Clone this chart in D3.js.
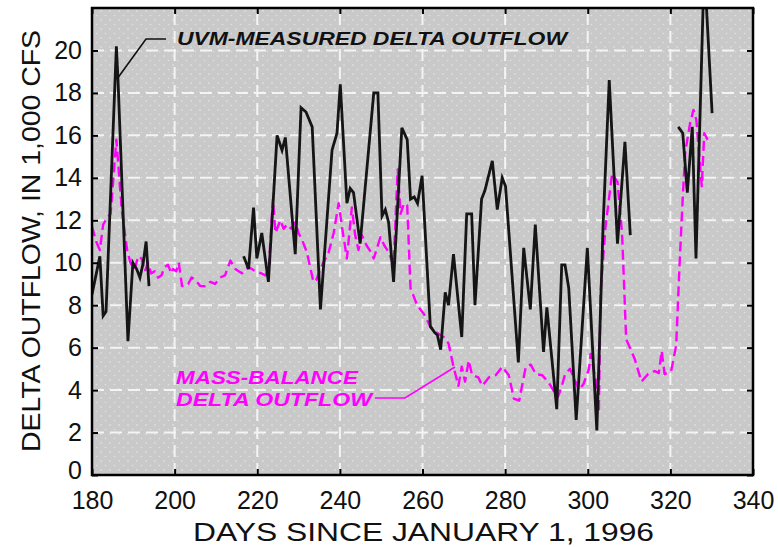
<!DOCTYPE html>
<html>
<head>
<meta charset="utf-8">
<script src="https://cdn.jsdelivr.net/npm/d3@7"></script>
<style>
  html, body { margin: 0; padding: 0; background: #ffffff; }
  svg { display: block; }
  text { font-family: "Liberation Sans", Arial, Helvetica, sans-serif; }
</style>
</head>
<body>
<svg id="chart" width="778" height="547"></svg>
<script>
// ---------------- DATA ----------------
const xTicks = [180, 200, 220, 240, 260, 280, 300, 320, 340];
const yTicks = [0, 2, 4, 6, 8, 10, 12, 14, 16, 18, 20];

// UVM-measured delta outflow (1,000 cfs); null = no data (gap)
const uvmDays = [
  180.0, 181.9, 182.7, 183.4, 185.9, 186.3, 188.7, 189.9, 190.8, 191.6, 192.4, 193.1, 193.8,
  205.0,
  216.7, 217.9, 219.1, 219.9, 221.1, 222.7, 224.8, 226.0, 226.8, 229.2, 230.6, 231.8, 233.3,
  235.3, 238.1, 239.3, 240.1, 241.7, 242.5, 243.3, 244.9, 248.2, 249.2, 250.2, 251.0, 251.8,
  253.0, 255.0, 256.3, 257.1, 258.0, 258.8, 259.9, 261.9, 263.0, 263.6, 264.4, 265.5, 266.3,
  267.5, 269.5, 270.7, 271.9, 272.7, 274.3, 275.1, 276.9, 278.1, 279.3, 280.1, 283.2, 284.5,
  286.1, 287.3, 289.3, 290.1, 292.5, 293.7, 294.5, 295.4, 297.2, 299.9, 302.2, 303.7, 305.2,
  307.2, 309.0, 310.3,
  315.0,
  321.9, 323.0, 324.1, 325.3, 326.2, 328.2, 330.1
];
const uvmValues = [
  8.5, 10.3, 7.5, 7.7, 20.2, 18.6, 6.3, 10.0, 9.7, 9.3, 10.0, 11.0, 8.9,
  null,
  10.3, 9.7, 12.6, 10.2, 11.4, 9.1, 16.0, 15.3, 15.9, 10.4, 17.3, 17.1, 16.4,
  7.8, 15.3, 16.1, 18.4, 12.8, 13.5, 13.3, 10.9, 18.0, 18.0, 12.2, 12.5, 11.9,
  9.1, 16.35, 15.8, 13.0, 13.1, 12.8, 14.1, 7.0, 6.7, 6.6, 5.9, 8.6, 8.0,
  10.4, 6.5, 12.3, 12.3, 8.0, 13.0, 13.4, 14.8, 12.5, 14.0, 13.6, 5.3, 10.7,
  7.8, 11.8, 5.8, 7.9, 3.1, 9.9, 9.9, 8.8, 2.6, 10.7, 2.1, 11.7, 18.6,
  10.9, 15.7, 11.3,
  null,
  16.4, 16.1, 13.3, 16.4, 10.2, 24.0, 17.05
];

// Mass-balance delta outflow (1,000 cfs)
const mbDays = [
  180.0, 181.0, 181.9, 182.7, 183.6, 184.5, 185.9, 187.2, 188.5, 189.3, 190.3, 191.2, 192.0,
  192.8, 193.6, 194.3, 195.2, 196.0, 196.8, 197.6, 198.4, 199.2, 199.6, 200.4, 201.0, 201.8,
  202.5, 203.3, 204.1, 205.0, 206.2, 207.4, 208.6, 209.8, 211.0, 212.2, 213.5, 214.7, 215.5,
  216.3, 217.9, 219.5, 221.0, 222.0, 222.8, 223.8, 224.4, 225.6, 226.4, 227.2, 228.2, 229.2,
  230.0, 230.8, 232.0, 233.6, 234.3, 235.5, 237.3, 238.5, 239.7, 240.5, 241.7, 242.9, 243.7,
  244.5, 245.3, 246.5, 247.5, 248.2, 249.8, 250.8, 251.8, 253.0, 254.0, 254.7, 255.5, 256.3,
  257.1, 258.7, 260.3, 261.9, 263.5, 265.1, 266.3, 267.5, 268.7, 269.5, 270.3, 271.2, 272.0,
  273.5, 274.5, 276.1, 277.7, 279.3, 280.9, 282.1, 283.4, 285.0, 286.2, 287.4, 289.0, 290.7,
  292.7, 293.6, 294.5, 295.7, 297.9, 299.0, 300.3, 300.7, 301.9, 302.7, 303.1, 304.3, 305.9,
  307.2, 308.3, 309.3, 310.2, 311.4, 313.0, 314.6, 316.2, 317.2, 317.9, 318.6, 320.2, 321.4,
  322.2, 323.0, 323.6, 324.8, 325.6, 326.3, 327.0, 327.6, 328.2, 329.0, 329.8
];
const mbValues = [
  11.7, 11.0, 10.6, 11.8, 12.1, 12.3, 15.8, 12.5, 10.6, 10.0, 9.7, 10.3, 10.2,
  9.6, 10.0, 9.5, 9.6, 9.3, 9.4, 9.8, 9.9, 9.5, 9.7, 9.6, 10.0, 8.9,
  8.9, 9.0, 9.3, 9.2, 8.9, 8.9, 9.1, 9.0, 9.3, 9.4, 10.1, 9.7, 9.6,
  9.5, 9.8, 9.6, 9.5, 9.4, 9.8, 13.0, 11.4, 12.0, 11.6, 11.8, 11.6, 11.9,
  11.4, 11.1, 10.5, 9.1, 9.2, 9.8, 10.5, 11.4, 12.8, 11.7, 10.2, 12.6, 11.3,
  10.6, 11.3, 10.8, 10.5, 10.2, 11.2, 10.8, 10.5, 9.9, 14.4, 12.3, 12.8, 12.7,
  8.8, 8.0, 7.6, 7.0, 6.7, 6.5, 6.2, 5.1, 4.2, 5.1, 4.4, 5.4, 4.7,
  4.6, 4.2, 4.6, 4.7, 5.1, 4.7, 3.6, 3.5, 5.1, 5.2, 4.75, 4.7, 4.3,
  3.65, 4.1, 4.75, 5.0, 4.0, 4.3, 5.0, 5.7, 4.5, 3.1, 8.6, 11.7, 14.2,
  13.8, 11.4, 6.4, 6.0, 5.45, 4.4, 4.75, 4.9, 4.8, 5.85, 4.75, 4.9, 6.1,
  9.8, 13.1, 15.2, 16.6, 17.2, 16.7, 15.0, 13.6, 16.1, 15.8, 15.6
];

const xLabel = "DAYS SINCE JANUARY 1, 1996";
const yLabel = "DELTA OUTFLOW, IN 1,000 CFS";
const uvmLabel = "UVM-MEASURED DELTA OUTFLOW";
const mbLabel = ["MASS-BALANCE", "DELTA OUTFLOW"];

// ---------------- LAYOUT ----------------
const svg = d3.select("#chart");
const L = 92, R = 753, T = 8, B = 475;
const x = d3.scaleLinear().domain([180, 340]).range([L, R]);
const y = d3.scaleLinear().domain([0, 22]).range([B, T]);

// stipple pattern
const defs = svg.append("defs");
const pat = defs.append("pattern").attr("id", "stipple")
  .attr("patternUnits", "userSpaceOnUse").attr("width", 9).attr("height", 9);
pat.append("rect").attr("width", 9).attr("height", 9).attr("fill", "#c9c9c9");
pat.append("circle").attr("cx", 2).attr("cy", 2).attr("r", 0.75).attr("fill", "#ececec");
pat.append("circle").attr("cx", 6.5).attr("cy", 6.5).attr("r", 0.75).attr("fill", "#e2e2e2");
defs.append("clipPath").attr("id", "plotclip").append("rect")
  .attr("x", L).attr("y", T).attr("width", R - L).attr("height", B - T);

svg.append("rect").attr("x", L).attr("y", T).attr("width", R - L).attr("height", B - T)
  .attr("fill", "url(#stipple)");

// grid
const grid = svg.append("g").attr("clip-path", "url(#plotclip)");
grid.selectAll("line.h").data(yTicks.filter(d => d > 0)).join("line")
  .attr("x1", L).attr("x2", R).attr("y1", d => y(d)).attr("y2", d => y(d))
  .attr("stroke", "#f4f4f4").attr("stroke-width", 2).attr("stroke-dasharray", "12,6");
grid.selectAll("line.v").data(xTicks.filter(d => d > 180 && d < 340)).join("line")
  .attr("y1", B).attr("y2", T).attr("x1", d => x(d)).attr("x2", d => x(d))
  .attr("stroke", "#f4f4f4").attr("stroke-width", 2).attr("stroke-dasharray", "12,6");

// series
const uvm = uvmDays.map((d, i) => ({ d, v: uvmValues[i] }));
const mb = mbDays.map((d, i) => ({ d, v: mbValues[i] }));
const line = d3.line().defined(p => p.v !== null).x(p => x(p.d)).y(p => y(p.v));

const plot = svg.append("g").attr("clip-path", "url(#plotclip)");
plot.append("path").datum(mb).attr("d", line)
  .attr("fill", "none").attr("stroke", "#ff00ff").attr("stroke-width", 2.4)
  .attr("stroke-dasharray", "10,5").attr("stroke-linejoin", "round");
plot.append("path").datum(uvm).attr("d", line)
  .attr("fill", "none").attr("stroke", "#151515").attr("stroke-width", 2.8)
  .attr("stroke-linejoin", "miter");

// axes (inner ticks on all four sides)
const fs = "25px";
svg.append("g").attr("transform", `translate(${L},0)`)
  .call(d3.axisLeft(y).tickValues(yTicks).tickSize(-6).tickPadding(10));
svg.append("g").attr("transform", `translate(0,${B})`)
  .call(d3.axisBottom(x).tickValues(xTicks).tickSize(-6).tickPadding(16));
svg.append("g").attr("transform", `translate(${R},0)`)
  .call(d3.axisRight(y).tickValues(yTicks).tickSize(-6).tickFormat(""));
svg.append("g").attr("transform", `translate(0,${T})`)
  .call(d3.axisTop(x).tickValues(xTicks).tickSize(-6).tickFormat(""));
svg.selectAll(".domain").remove();
svg.selectAll(".tick line").attr("stroke", "#000").attr("stroke-width", 2);
svg.selectAll(".tick text").attr("fill", "#111").style("font-size", fs)
  .style("font-family", "'Liberation Sans', Arial, sans-serif");
// lift the "0" label slightly, as in the reference
svg.selectAll(".tick text").filter(function(d) { return d === 0 && this.getAttribute("x") !== null && +this.getAttribute("x") < 0; })
  .attr("dy", "0.12em");

// frame
svg.append("rect").attr("x", L).attr("y", T).attr("width", R - L).attr("height", B - T)
  .attr("fill", "none").attr("stroke", "#000").attr("stroke-width", 2.5);

// axis titles
svg.append("text").attr("x", (L + R) / 2 + 1).attr("y", 541)
  .attr("text-anchor", "middle").attr("fill", "#111").style("font-size", "25px")
  .attr("textLength", 461).attr("lengthAdjust", "spacingAndGlyphs").text(xLabel);
svg.append("text").attr("transform", "translate(40,241) rotate(-90)")
  .attr("text-anchor", "middle").attr("fill", "#111").style("font-size", "25px")
  .attr("textLength", 422).attr("lengthAdjust", "spacingAndGlyphs").text(yLabel);

// annotations
svg.append("polyline").attr("points", "117,79 146,39 166,39")
  .attr("fill", "none").attr("stroke", "#111").attr("stroke-width", 1.6);
svg.append("text").attr("x", 177).attr("y", 45).attr("fill", "#111")
  .style("font-size", "19px").style("font-weight", "bold").style("font-style", "italic")
  .attr("textLength", 390).attr("lengthAdjust", "spacingAndGlyphs").text(uvmLabel);

svg.append("polyline").attr("points", "375,398 405,398 455,367")
  .attr("fill", "none").attr("stroke", "#ff00ff").attr("stroke-width", 1.6);
svg.append("text").attr("x", 176).attr("y", 384).attr("fill", "#ff00ff")
  .style("font-size", "19px").style("font-weight", "bold").style("font-style", "italic")
  .attr("textLength", 182).attr("lengthAdjust", "spacingAndGlyphs").text(mbLabel[0]);
svg.append("text").attr("x", 176).attr("y", 406).attr("fill", "#ff00ff")
  .style("font-size", "19px").style("font-weight", "bold").style("font-style", "italic")
  .attr("textLength", 196).attr("lengthAdjust", "spacingAndGlyphs").text(mbLabel[1]);
</script>
</body>
</html>
